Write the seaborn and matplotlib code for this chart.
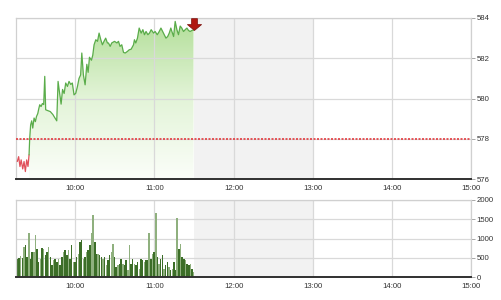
import numpy as np
import pandas as pd
import matplotlib
matplotlib.use("Agg")
import matplotlib.pyplot as plt
import seaborn as sns
from matplotlib.colors import LinearSegmentedColormap
from matplotlib.path import Path
from matplotlib.markers import MarkerStyle

# ---------------- data ----------------
# minutes after 09:15 and index level
price_min = [1.0, 2.0, 3.0, 3.9, 5.1, 6.1, 7.1, 8.1, 9.1, 9.9,
             10.4, 11.1, 11.9, 12.7, 13.7, 14.7, 15.5, 16.5, 17.3, 18.0,
             19.0, 20.0, 21.0, 21.8, 22.5, 24.0, 26.0, 28.0, 28.9, 30.9,
             31.9, 33.0, 34.2, 35.3, 36.5, 37.7, 39.0, 40.2, 41.5, 42.7,
             44.0, 45.3, 46.6, 47.8, 49.0, 49.9, 51.1, 52.4, 53.7, 54.7,
             55.7, 57.2, 58.2, 59.2, 60.5, 61.8, 63.0, 64.3, 65.5, 66.8,
             68.0, 69.3, 70.1, 71.4, 72.6, 74.7, 76.5, 77.7, 78.9, 80.2,
             81.5, 82.8, 84.5, 85.8, 87.3, 89.1, 89.8, 90.8, 92.1, 93.4,
             94.9, 96.2, 97.4, 98.6, 100.0, 101.2, 102.5, 104.3, 105.5, 107.1,
             108.6, 109.9, 111.2, 112.4, 113.7, 115.0, 116.2, 117.4, 118.2, 119.5,
             120.7, 122.0, 123.2, 124.5, 125.7, 127.0, 128.3, 129.6, 130.8, 132.0,
             133.9, 134.6]
price = [576.87, 577.11, 576.62, 576.95, 576.50, 576.87, 576.37, 576.95, 576.62, 577.20,
         578.03, 578.69, 578.89, 578.53, 579.03, 578.85, 579.10, 579.25, 579.50, 579.69,
         579.60, 579.75, 579.70, 581.10, 579.44, 579.40, 579.35, 579.20, 579.10, 578.89,
         580.85, 580.30, 579.72, 580.45, 580.25, 580.77, 580.60, 580.85, 580.70, 580.77,
         580.18, 580.26, 580.60, 581.00, 581.17, 582.26, 581.17, 580.68, 581.70, 581.30,
         582.05, 581.90, 582.15, 582.67, 582.92, 582.84, 583.25, 582.92, 582.67, 582.85,
         583.00, 582.76, 582.76, 582.59, 582.76, 582.84, 582.76, 582.84, 582.59, 582.67,
         582.29, 582.26, 582.34, 582.42, 582.45, 582.67, 582.92, 582.76, 583.00, 583.50,
         583.25, 583.42, 583.17, 583.33, 583.17, 583.25, 583.42, 583.25, 583.33, 583.17,
         583.33, 583.50, 583.33, 583.17, 583.00, 583.08, 583.25, 583.50, 583.33, 583.08,
         583.83, 583.42, 583.17, 583.60, 583.50, 583.33, 583.42, 583.50, 583.38, 583.33,
         583.40, 583.39]
ref_price = 578.0

volume = [460, 500, 550, 500, 780, 830, 520, 1130, 480, 650,
          650, 1090, 740, 390, 480, 760, 740, 570, 650, 780,
          520, 300, 435, 480, 390, 480, 300, 520, 650, 700,
          570, 700, 480, 830, 390, 390, 520, 610, 910, 960,
          480, 520, 650, 700, 830, 1130, 1610, 910, 610, 610,
          570, 520, 480,
          520, 300, 435, 570, 650, 870, 520, 260, 300, 350,
          480, 350, 300, 435, 175, 830, 350, 480, 350, 300,
          390, 220, 480, 435, 390, 435, 435, 1130, 480, 610,
          650, 1650, 520, 350, 480, 570, 220, 300, 390, 260,
          175, 220, 390, 175, 1520, 740, 870, 520, 480, 435,
          350, 300, 350, 220, 130]
vol_light = [0, 0, 1, 0, 1, 0, 0, 1, 0, 0,
             1, 1, 0, 0, 1, 0, 1, 0, 0, 1,
             0, 0, 1, 0, 0, 1, 0, 0, 1, 0,
             0, 1, 0, 0, 1, 0, 0, 1, 0, 0,
             1, 0, 1, 0, 0, 1, 1, 0, 0, 1,
             0, 0, 1,
             0, 1, 0, 0, 1, 1, 0, 0, 1, 0,
             0, 1, 0, 0, 1, 1, 0, 0, 1, 0,
             0, 1, 0, 0, 1, 0, 0, 1, 0, 1,
             0, 1, 0, 1, 0, 0, 1, 0, 0, 1,
             0, 1, 0, 0, 1, 0, 1, 0, 0, 1,
             0, 0, 1, 0, 1]

hour_ticks = [10, 11, 12, 13, 14, 15]
hour_labels = ["10:00", "11:00", "12:00", "13:00", "14:00", "15:00"]
price_ticks = [576, 578, 580, 582, 584]
vol_ticks = [0, 500, 1000, 1500, 2000]
session_start, session_end = 9.25, 15.0
break_start, break_end = 11.5, 13.0

# ---------------- style ----------------
sns.set_theme(style="white")
plt.rcParams["font.family"] = ["Liberation Sans", "DejaVu Sans"]

df = pd.DataFrame({"t": session_start + np.array(price_min) / 60.0, "p": price})
k = int(np.argmax(df["p"].values >= ref_price))
red_part = df.iloc[:k]
green_part = df.iloc[k - 1:]

vol_times = pd.date_range("2000-01-01 09:16", periods=len(volume), freq="75s")
vdf = pd.DataFrame({
    "t": vol_times.hour + vol_times.minute / 60.0 + vol_times.second / 3600.0,
    "v": volume,
    "light": vol_light,
})

fig = plt.figure(figsize=(5.01, 3.0), dpi=100)
ax1 = fig.add_axes([16 / 501, 1 - 179 / 300, 455 / 501, 161 / 300])
ax2 = fig.add_axes([16 / 501, 1 - 277 / 300, 455 / 501, 77 / 300])

grid_c = "#d9d9d9"
for ax in (ax1, ax2):
    ax.set_axisbelow(True)
    ax.axvspan(break_start, break_end, color="#f2f2f2", lw=0, zorder=0.1)
    ax.grid(True, color=grid_c, lw=0.9)
    for s in ("left", "top", "right"):
        ax.spines[s].set_color("#d0d0d0")
        ax.spines[s].set_linewidth(0.9)
    ax.spines["bottom"].set_color("#303030")
    ax.spines["bottom"].set_linewidth(1.4)

# gradient fill under the green part
poly = ax1.fill_between(green_part["t"], green_part["p"], price_ticks[0],
                        color="none", lw=0)
grad = np.linspace(0, 1, 256).reshape(-1, 1)
cmap = LinearSegmentedColormap.from_list("gfill", ["#fbfef9", "#e3f4d8", "#b2de98"])
im = ax1.imshow(grad, extent=[green_part["t"].min(), green_part["t"].max(),
                              price_ticks[0], price_ticks[-1]],
                origin="lower", cmap=cmap, aspect="auto", zorder=0.2)
im.set_clip_path(poly.get_paths()[0], ax1.transData)

sns.lineplot(data=red_part, x="t", y="p", color="#e0505a", lw=0.9, ax=ax1,
             estimator=None, sort=False, zorder=3)
sns.lineplot(data=green_part, x="t", y="p", color="#5aac4a", lw=0.9, ax=ax1,
             estimator=None, sort=False, zorder=3)
ax1.axhline(ref_price, color="#e33a3f", ls=(0, (1.2, 0.9)), lw=1.2, zorder=4)

# down arrow marker at the last point
verts = [(-0.25, 1.0), (0.25, 1.0), (0.25, 0.5), (0.6, 0.5), (0.0, 0.0),
         (-0.6, 0.5), (-0.25, 0.5), (-0.25, 1.0)]
codes = [Path.MOVETO] + [Path.LINETO] * 6 + [Path.CLOSEPOLY]
arrow = MarkerStyle(Path(verts, codes))
ax1.scatter([df["t"].iloc[-1]], [df["p"].iloc[-1]], marker=arrow, s=290,
            color="#b01812", edgecolors="#7a0e0a", linewidths=0.5, zorder=5)

ax1.set_ylim(price_ticks[0], price_ticks[-1])
ax1.set_yticks(price_ticks)

# volume bars
bar_w = 0.9 * 75 / 3600.0
colors = ["#8fb07e" if l else "#3c6e28" for l in vdf["light"]]
ax2.bar(vdf["t"], vdf["v"], width=bar_w, color=colors, lw=0, zorder=2)
ax2.set_ylim(vol_ticks[0], vol_ticks[-1])
ax2.set_yticks(vol_ticks)

for ax in (ax1, ax2):
    ax.yaxis.tick_right()
    ax.set_xlim(session_start, session_end)
    ax.set_xticks(hour_ticks)
    ax.set_xticklabels(hour_labels)
    ax.tick_params(axis="x", length=0, pad=4, labelsize=5.6, labelcolor="#333333")
    ax.tick_params(axis="y", length=3, width=0.6, color="#9a9a9a", pad=1,
                   labelsize=5.6, labelcolor="#333333", right=True, left=False)
    ax.set_xlabel("")
    ax.set_ylabel("")

fig.savefig("out.png", dpi=100)
